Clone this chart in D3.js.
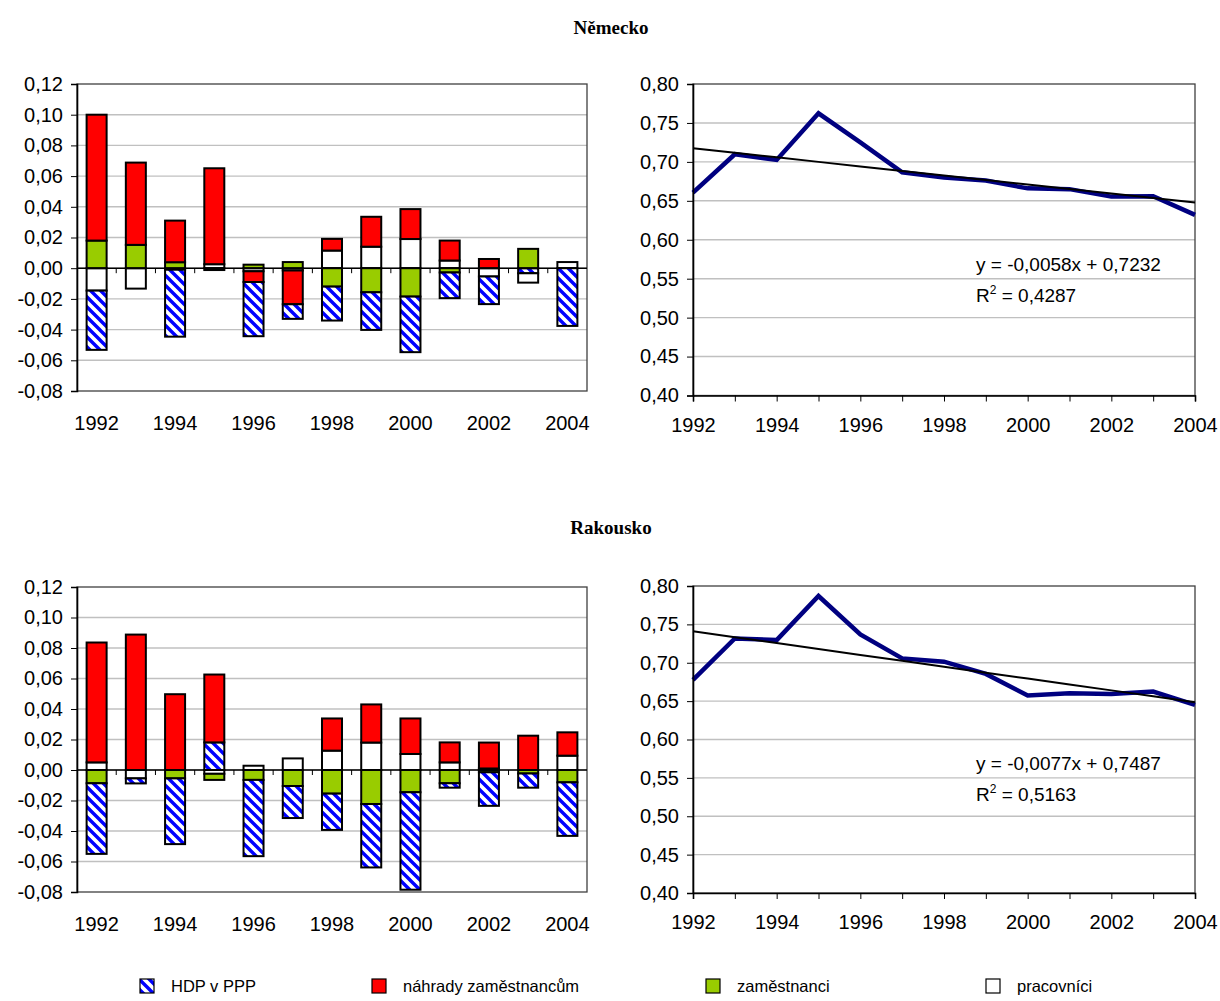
<!DOCTYPE html>
<html><head><meta charset="utf-8">
<script src="https://cdn.jsdelivr.net/npm/d3@7"></script>
<style>
body{margin:0;background:#fff}
svg{display:block}
text{fill:#000}
</style>
</head><body>
<svg id="c" width="1220" height="1001"></svg>
<script>
// ---------- data ----------
const years = [1992,1993,1994,1995,1996,1997,1998,1999,2000,2001,2002,2003,2004];
const yearLabels = [1992,1994,1996,1998,2000,2002,2004];
const barTicks = [-0.08,-0.06,-0.04,-0.02,0,0.02,0.04,0.06,0.08,0.10,0.12];
const lineTicks = [0.40,0.45,0.50,0.55,0.60,0.65,0.70,0.75,0.80];
const seriesNames = ["HDP v PPP","náhrady zaměstnancům","zaměstnanci","pracovníci"];
const titles = ["Německo","Rakousko"];

// Německo – bar components
const deHdp  = [-0.0386, 0, -0.0436, -0.0012, -0.0353, -0.0095, -0.0221, -0.0245, -0.0362, -0.0167, -0.0180, -0.0033, -0.0376];
const deNahr = [0.0820, 0.0536, 0.0271, 0.0625, -0.0070, -0.0220, 0.0076, 0.0195, 0.0195, 0.0130, 0.0060, 0, 0];
const deZam  = [0.0180, 0.0152, 0.0039, 0, 0.0023, 0.0040, -0.0120, -0.0157, -0.0185, -0.0028, 0, 0.0126, 0];
const dePrac = [-0.0146, -0.0133, -0.0010, 0.0026, -0.0020, -0.0015, 0.0115, 0.0140, 0.0190, 0.0050, -0.0054, -0.0061, 0.0040];
const deHdpFirst = [2003];
// Německo – line
const deShare = [0.6606, 0.7098, 0.7025, 0.7624, 0.7250, 0.6867, 0.6800, 0.6760, 0.6660, 0.6650, 0.6554, 0.6560, 0.6320];
const deTrend = {a: -0.0058, b: 0.7232, eq: "y = -0,0058x + 0,7232", r2: "0,4287"};

// Rakousko – bar components
const atHdp  = [-0.0463, -0.0033, -0.0431, 0.0181, -0.0500, -0.0210, -0.0238, -0.0416, -0.0639, -0.0029, -0.0220, -0.0093, -0.0351];
const atNahr = [0.0786, 0.0888, 0.0497, 0.0445, 0, 0, 0.0211, 0.0250, 0.0233, 0.0131, 0.0170, 0.0225, 0.0153];
const atZam  = [-0.0087, 0, -0.0055, -0.0040, -0.0065, -0.0105, -0.0155, -0.0223, -0.0146, -0.0087, -0.0015, -0.0023, -0.0081];
const atPrac = [0.0050, -0.0055, 0, -0.0025, 0.0028, 0.0076, 0.0127, 0.0180, 0.0105, 0.0050, 0.0010, 0, 0.0094];
const atHdpFirst = [1995];
// Rakousko – line
const atShare = [0.6776, 0.7317, 0.7295, 0.7870, 0.7368, 0.7057, 0.7014, 0.6854, 0.6573, 0.6603, 0.6594, 0.6625, 0.6451];
const atTrend = {a: -0.0077, b: 0.7487, eq: "y = -0,0077x + 0,7487", r2: "0,5163"};

// ---------- drawing ----------
const SANS = "Arial, 'Liberation Sans', sans-serif";
const SERIF = "'Times New Roman', 'Liberation Serif', serif";
const svg = d3.select("#c").style("font-family", SANS);
const defs = svg.append("defs");
const pat = defs.append("pattern").attr("id","hatch").attr("patternUnits","userSpaceOnUse")
  .attr("width",10).attr("height",10);
pat.append("rect").attr("width",10).attr("height",10).attr("fill","#fff");
pat.append("path").attr("d","M-3,-3 L13,13 M-3,7 L3,13 M7,-3 L13,3")
  .attr("stroke","#0000ff").attr("stroke-width",3.4);

const fills = {hdp:"url(#hatch)", nahr:"#ff0000", zam:"#99cc00", prac:"#ffffff"};
const fmt = d => d3.format(".2f")(d).replace(".", ",").replace("\u2212","-");
const AX = 20;

function stackBars(s, hdpFirst){
  const segs = [];
  years.forEach((yr,i)=>{
    const order = hdpFirst.includes(yr) ? ["hdp","prac","zam","nahr"] : ["prac","zam","nahr","hdp"];
    let pos=0, neg=0;
    order.forEach(k=>{
      const v = s[k][i];
      if(!v) return;
      if(v>0){ segs.push({yr,k,y0:pos,y1:pos+v}); pos+=v; }
      else { segs.push({yr,k,y0:neg,y1:neg+v}); neg+=v; }
    });
  });
  return segs;
}

function styleAxisText(sel){
  sel.selectAll("text").attr("font-size",AX).style("font-family",SANS).attr("fill","#000");
}

function barChart(top, bottom, s, hdpFirst){
  const L=77, R=587;
  const x = d3.scaleBand().domain(years).range([L,R]).paddingInner(0.49).paddingOuter(0.245);
  const y = d3.scaleLinear().domain([-0.08,0.12]).range([bottom,top]);
  const g = svg.append("g");
  g.selectAll(".gl").data(barTicks.filter(t=>t>-0.08 && t<0.12)).join("line")
    .attr("x1",L).attr("x2",R).attr("y1",d=>y(d)).attr("y2",d=>y(d))
    .attr("stroke","#c0c0c0").attr("stroke-width",1.4);
  g.append("rect").attr("x",L).attr("y",top).attr("width",R-L).attr("height",bottom-top)
    .attr("fill","none").attr("stroke","#404040").attr("stroke-width",1.3);
  const segs = stackBars(s, hdpFirst);
  g.selectAll(".seg").data(segs).join("rect")
    .attr("x",d=>x(d.yr)).attr("width",x.bandwidth())
    .attr("y",d=>y(Math.max(d.y0,d.y1))).attr("height",d=>Math.abs(y(d.y0)-y(d.y1)))
    .attr("fill",d=>fills[d.k]).attr("stroke","#000").attr("stroke-width",2);
  const y0 = y(0);
  g.append("line").attr("x1",L).attr("x2",R).attr("y1",y0).attr("y2",y0)
    .attr("stroke","#000").attr("stroke-width",1.5);
  g.selectAll(".ct").data(d3.range(1,years.length)).join("line")
    .attr("x1",i=>L+i*x.step()).attr("x2",i=>L+i*x.step())
    .attr("y1",y0).attr("y2",y0+5).attr("stroke","#000").attr("stroke-width",1);
  const ya = g.append("g").attr("transform",`translate(${L},0)`)
    .call(d3.axisLeft(y).tickValues(barTicks).tickFormat(fmt).tickSize(6).tickPadding(8));
  ya.select(".domain").attr("stroke","#000").attr("stroke-width",1.6);
  styleAxisText(ya);
  g.selectAll(".xl").data(yearLabels).join("text")
    .attr("x",d=>x(d)+x.bandwidth()/2).attr("y",bottom+39)
    .attr("text-anchor","middle").attr("font-size",AX).text(d=>d);
}

function lineChart(top, bottom, vals, tr){
  const L=693, R=1195;
  const x = d3.scaleLinear().domain([1992,2004]).range([L,R]);
  const y = d3.scaleLinear().domain([0.40,0.80]).range([bottom,top]);
  const g = svg.append("g");
  g.selectAll(".gl").data(lineTicks.filter(t=>t>0.40 && t<0.80)).join("line")
    .attr("x1",L).attr("x2",R).attr("y1",d=>y(d)).attr("y2",d=>y(d))
    .attr("stroke","#c0c0c0").attr("stroke-width",1.4);
  g.append("rect").attr("x",L).attr("y",top).attr("width",R-L).attr("height",bottom-top)
    .attr("fill","none").attr("stroke","#404040").attr("stroke-width",1.3);
  const line = d3.line().x((d,i)=>x(years[i])).y(d=>y(d));
  g.append("path").datum(vals).attr("d",line).attr("fill","none")
    .attr("stroke","#000080").attr("stroke-width",4.5).attr("stroke-linejoin","miter");
  const trend = years.map((yr,i)=>tr.a*(i+1)+tr.b);
  g.append("path").datum(trend).attr("d",line).attr("fill","none")
    .attr("stroke","#000").attr("stroke-width",2);
  const ya = g.append("g").attr("transform",`translate(${L},0)`)
    .call(d3.axisLeft(y).tickValues(lineTicks).tickFormat(fmt).tickSize(6).tickPadding(8));
  ya.select(".domain").attr("stroke","#000").attr("stroke-width",1.6);
  styleAxisText(ya);
  const xa = g.append("g").attr("transform",`translate(0,${bottom})`)
    .call(d3.axisBottom(x).tickValues(years).tickFormat(d=>yearLabels.includes(d)?d:"").tickSize(6).tickPadding(16));
  xa.select(".domain").attr("stroke","#000").attr("stroke-width",1.6);
  styleAxisText(xa);
  const yEq = y(0.60) + (y(0.55)-y(0.60))*0.79;
  g.append("text").attr("x",976).attr("y",yEq).attr("font-size",19).text(tr.eq);
  const r = g.append("text").attr("x",976).attr("y",yEq+31).attr("font-size",19);
  r.append("tspan").text("R");
  r.append("tspan").attr("font-size",12).attr("dy",-8).text("2");
  r.append("tspan").attr("dy",8).text(" = "+tr.r2);
}

svg.selectAll(".title").data(titles).join("text")
  .attr("x",611).attr("y",(d,i)=>i===0?34:534).attr("text-anchor","middle")
  .style("font-family",SERIF).attr("font-weight","bold")
  .attr("font-size",19).text(d=>d);

barChart(84, 391, {hdp:deHdp, nahr:deNahr, zam:deZam, prac:dePrac}, deHdpFirst);
lineChart(84, 395.5, deShare, deTrend);
barChart(587, 892, {hdp:atHdp, nahr:atNahr, zam:atZam, prac:atPrac}, atHdpFirst);
lineChart(586, 893, atShare, atTrend);

const legX = [140, 372, 706, 986];
const legKeys = ["hdp","nahr","zam","prac"];
const lg = svg.append("g");
seriesNames.forEach((n,i)=>{
  lg.append("rect").attr("x",legX[i]).attr("y",979).attr("width",14).attr("height",14)
    .attr("fill",fills[legKeys[i]]).attr("stroke","#000").attr("stroke-width",1.2);
  lg.append("text").attr("x",legX[i]+31).attr("y",992).attr("font-size",16.5).text(n);
});
</script>
</body></html>
